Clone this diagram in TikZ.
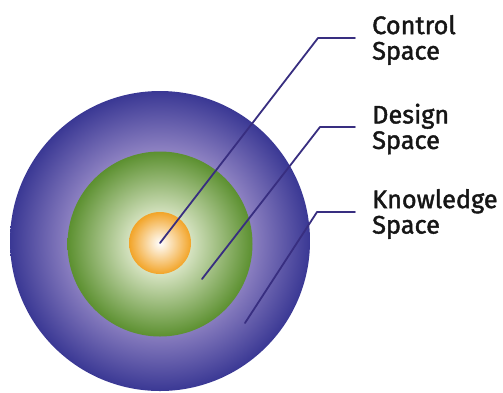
\documentclass[tikz,border=0pt]{standalone}
\usepackage{fontspec}
\setmainfont{Fira Sans}[FakeBold=1.6]
\usepackage{tikz}
\usetikzlibrary{positioning,calc}
\definecolor{violetFonce}{RGB}{58,56,148}
\definecolor{violetClair}{RGB}{142,130,194}
\definecolor{vertFonce}{RGB}{92,144,48}
\definecolor{vertClair}{RGB}{236,242,220}
\definecolor{orangeVif}{RGB}{242,164,40}
\definecolor{traitEncre}{RGB}{56,46,128}
\definecolor{texteNoir}{RGB}{22,22,22}

\pgfdeclareradialshading{knowShade}{\pgfpointorigin}{color(0bp)=(violetClair); color(15bp)=(violetClair); color(25bp)=(violetFonce); color(50bp)=(violetFonce)}
\pgfdeclareradialshading{designShade}{\pgfpointorigin}{color(0bp)=(vertClair); color(8bp)=(vertClair!85!vertFonce); color(25bp)=(vertFonce); color(50bp)=(vertFonce)}
\pgfdeclareradialshading{controlShade}{\pgfpointorigin}{color(0bp)=(white); color(25bp)=(orangeVif); color(50bp)=(orangeVif)}

\begin{document}
\begin{tikzpicture}[x=1pt,y=-1pt,
  disque/.style={circle, inner sep=0pt},
  etiquette/.style={anchor=west, align=left, inner xsep=0pt, text=texteNoir,
                    font=\fontsize{25.3}{25.5}\selectfont},
  renvoi/.style={draw=traitEncre, line width=1.8pt, line cap=round, line join=round}]

\useasboundingbox (0,0) rectangle (503,392);

% spaces
\node[disque, minimum size=300pt, shading=knowShade] (know) at (160,241) {};
\node[disque, minimum size=185pt, shading=designShade] (design) at (160,244) {};
\node[disque, minimum size=62pt, shading=controlShade] (control) at (160,243) {};

% labels
\node[etiquette] (lblControl) at (372,40) {Control\\Space};
\node[etiquette] (lblDesign) at (372,129) {Design\\Space};
\node[etiquette] (lblKnow) at (372,214) {Knowledge\\Space};

\coordinate (ptDesign) at (202,279);
\coordinate (ptKnow) at (245,323);

\draw[renvoi] (control.center) -- (318,38) -- ($(lblControl.west)+(-17,-2)$);
\draw[renvoi] (ptDesign) -- (320,127) -- ($(lblDesign.west)+(-17,-2)$);
\draw[renvoi] (ptKnow) -- (317,212) -- ($(lblKnow.west)+(-17,-2)$);

\end{tikzpicture}
\end{document}
